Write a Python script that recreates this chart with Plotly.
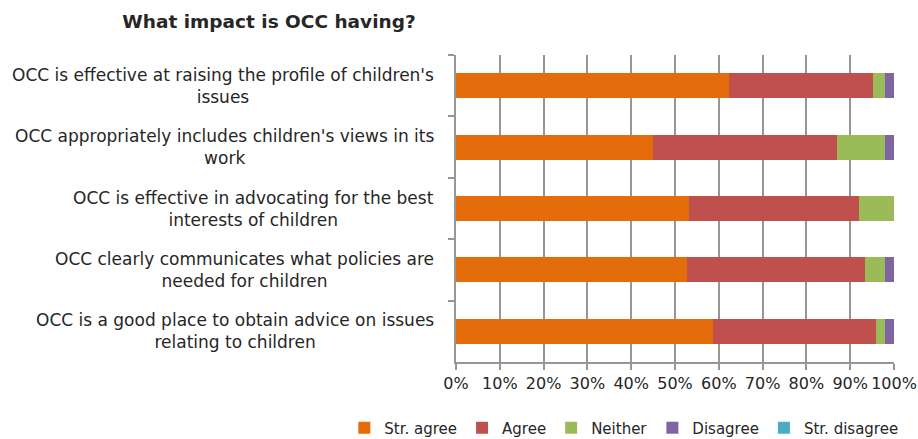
import plotly.graph_objects as go

categories = [
    "OCC is effective at raising the profile of children's<br>issues",
    "OCC appropriately includes children's views in its<br>work",
    "OCC is effective in advocating for the best<br>interests of children",
    "OCC clearly communicates what policies are<br>needed for children",
    "OCC is a good place to obtain advice on issues<br>relating to children",
]
series_names = ["Str. agree", "Agree", "Neither", "Disagree", "Str. disagree"]
str_agree = [62.3, 44.9, 53.1, 52.7, 58.6]
agree = [32.8, 42.0, 38.8, 40.6, 37.4]
neither = [2.8, 11.0, 8.1, 4.6, 1.9]
disagree = [2.1, 2.1, 0.0, 2.1, 2.1]
str_disagree = [0.0, 0.0, 0.0, 0.0, 0.0]
x_ticks = [0, 10, 20, 30, 40, 50, 60, 70, 80, 90, 100]
x_tick_labels = [f"{v}%" for v in x_ticks]
title_text = "What impact is OCC having?"

colors = ["#E46C0A", "#C0504D", "#9BBB59", "#8064A2", "#4BACC6"]
values = [str_agree, agree, neither, disagree, str_disagree]

font_family = "DejaVu Sans, sans-serif"
text_color = "#262626"

fig = go.Figure()
for name, vals, col in zip(series_names, values, colors):
    fig.add_trace(go.Bar(
        y=categories, x=vals, name=name, orientation="h",
        marker=dict(color=col, line=dict(width=0)),
    ))

for cat in categories:
    fig.add_annotation(
        x=0, xref="paper", y=cat, yref="y", text=cat,
        xanchor="right", yanchor="middle", align="center", xshift=-20,
        showarrow=False, font=dict(family=font_family, size=17, color=text_color),
    )

fig.update_layout(
    width=918, height=439,
    margin=dict(l=456, r=24, t=55, b=77, autoexpand=False),
    barmode="stack", bargap=0.59,
    plot_bgcolor="white", paper_bgcolor="white",
    font=dict(family=font_family, color=text_color),
    title=dict(text=title_text, x=269/918, xanchor="center", y=1 - 22/439, yanchor="middle",
               font=dict(size=18.5, family=font_family, color=text_color, weight="bold")),
    legend=dict(orientation="h", x=-0.255, xref="paper", xanchor="left",
                y=-0.215, yref="paper", yanchor="middle",
                font=dict(size=15, family=font_family, color=text_color),
                traceorder="normal", itemwidth=30, bgcolor="rgba(0,0,0,0)"),
    showlegend=True,
)
fig.update_xaxes(
    range=[0, 100], tickvals=x_ticks, ticktext=x_tick_labels,
    showgrid=True, gridcolor="#969696", gridwidth=1.5,
    showline=True, linecolor="#969696", linewidth=1.5,
    ticks="outside", ticklen=6, tickcolor="#969696", tickwidth=1.5,
    tickfont=dict(size=16, family=font_family, color=text_color),
    zeroline=False, fixedrange=True, automargin=False,
)
fig.update_yaxes(
    autorange="reversed", showticklabels=False,
    showline=True, linecolor="#969696", linewidth=1.5,
    ticks="outside", ticklen=6, tickcolor="#969696", tickwidth=1.5,
    tickson="boundaries", showgrid=False, fixedrange=True, automargin=False,
)

fig.write_html("out.html")
